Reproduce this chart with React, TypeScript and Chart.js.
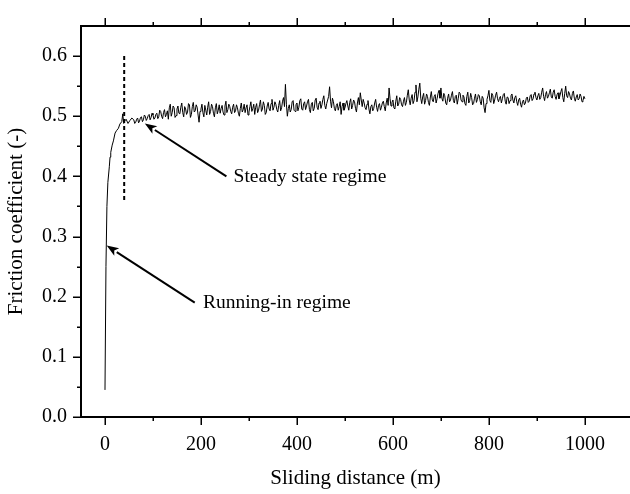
import { useEffect, useRef } from 'react';
import { Chart, registerables } from 'chart.js';

Chart.register(...registerables);

// Running-in part of the curve (distance in m, friction coefficient)
const runInDistance = [0, 2, 4, 6, 9, 10.5, 12, 15, 17.5, 21, 24, 28, 31, 35, 37, 39, 41, 44, 48, 52, 56];
const runInFriction = [0.045, 0.25, 0.35, 0.39, 0.416, 0.432, 0.44, 0.452, 0.459, 0.472, 0.476, 0.48, 0.487, 0.491, 0.504, 0.488, 0.492, 0.495, 0.488, 0.493, 0.497];

// Steady-state part, read every 4 m from 60 m to 1000 m
const steadyStart = 60;
const steadyStep = 4;
const steadyFriction = [
  0.494, 0.490, 0.497, 0.492, 0.499, 0.494, 0.500, 0.496, 0.503, 0.498,
  0.502, 0.497, 0.505, 0.499, 0.508, 0.496, 0.511, 0.503, 0.495, 0.520,
  0.506, 0.514, 0.501, 0.517, 0.504, 0.522, 0.499, 0.512, 0.507, 0.519,
  0.503, 0.523, 0.509, 0.515, 0.490, 0.512, 0.506, 0.518, 0.502, 0.524,
  0.508, 0.516, 0.499, 0.521, 0.510, 0.505, 0.518, 0.502, 0.525, 0.511,
  0.516, 0.504, 0.520, 0.509, 0.514, 0.500, 0.522, 0.511, 0.506, 0.519,
  0.507, 0.524, 0.513, 0.503, 0.521, 0.510, 0.527, 0.512, 0.518, 0.506,
  0.523, 0.509, 0.528, 0.515, 0.520, 0.507, 0.526, 0.514, 0.531, 0.553,
  0.500, 0.519, 0.511, 0.526, 0.508, 0.522, 0.515, 0.529, 0.510, 0.524,
  0.517, 0.528, 0.506, 0.523, 0.513, 0.530, 0.511, 0.525, 0.519, 0.534,
  0.512, 0.527, 0.549, 0.514, 0.524, 0.509, 0.521, 0.516, 0.503, 0.522,
  0.514, 0.526, 0.510, 0.529, 0.518, 0.524, 0.507, 0.531, 0.539, 0.516,
  0.522, 0.511, 0.526, 0.504, 0.519, 0.513, 0.528, 0.508, 0.521, 0.515,
  0.525, 0.509, 0.530, 0.547, 0.517, 0.527, 0.512, 0.534, 0.520, 0.528,
  0.516, 0.531, 0.523, 0.544, 0.519, 0.536, 0.526, 0.552, 0.532, 0.555,
  0.521, 0.538, 0.526, 0.533, 0.518, 0.541, 0.524, 0.536, 0.529, 0.543,
  0.547, 0.525, 0.534, 0.519, 0.537, 0.527, 0.541, 0.522, 0.535, 0.529,
  0.538, 0.524, 0.532, 0.518, 0.540, 0.526, 0.531, 0.521, 0.537, 0.528,
  0.534, 0.519, 0.530, 0.506, 0.528, 0.543, 0.523, 0.535, 0.527, 0.540,
  0.524, 0.533, 0.529, 0.538, 0.520, 0.531, 0.526, 0.537, 0.522, 0.534,
  0.518, 0.530, 0.515, 0.527, 0.522, 0.532, 0.525, 0.536, 0.529, 0.540,
  0.527, 0.538, 0.531, 0.547, 0.526, 0.541, 0.533, 0.545, 0.530, 0.544,
  0.528, 0.539, 0.534, 0.546, 0.524, 0.550, 0.531, 0.537, 0.527, 0.542,
  0.525, 0.536, 0.529, 0.533, 0.526,
  0.529,
];
// Steady-state readings in between (62 m, 66 m, ... 998 m)
const steadyFrictionMid = [
  0.488, 0.495, 0.489, 0.498, 0.491, 0.502, 0.493, 0.501, 0.494, 0.505,
  0.495, 0.503, 0.496, 0.510, 0.500, 0.506, 0.499, 0.509, 0.514, 0.500,
  0.517, 0.498, 0.512, 0.505, 0.515, 0.506, 0.516, 0.503, 0.521, 0.498,
  0.516, 0.507, 0.519, 0.502, 0.508, 0.520, 0.499, 0.510, 0.515, 0.503,
  0.520, 0.505, 0.514, 0.504, 0.519, 0.513, 0.507, 0.517, 0.506, 0.520,
  0.508, 0.515, 0.506, 0.519, 0.505, 0.513, 0.507, 0.520, 0.514, 0.502,
  0.516, 0.508, 0.520, 0.515, 0.506, 0.519, 0.508, 0.524, 0.503, 0.517,
  0.512, 0.521, 0.510, 0.524, 0.511, 0.518, 0.509, 0.525, 0.516, 0.520,
  0.513, 0.507, 0.524, 0.510, 0.519, 0.509, 0.526, 0.512, 0.521, 0.511,
  0.524, 0.511, 0.520, 0.509, 0.527, 0.515, 0.522, 0.513, 0.528, 0.518,
  0.521, 0.533, 0.525, 0.530, 0.513, 0.518, 0.510, 0.524, 0.516, 0.510,
  0.521, 0.517, 0.523, 0.512, 0.527, 0.513, 0.522, 0.519, 0.527, 0.528,
  0.514, 0.520, 0.512, 0.516, 0.509, 0.522, 0.515, 0.518, 0.510, 0.522,
  0.516, 0.522, 0.518, 0.529, 0.523, 0.514, 0.525, 0.517, 0.531, 0.519,
  0.525, 0.518, 0.535, 0.527, 0.530, 0.521, 0.540, 0.524, 0.545, 0.530,
  0.532, 0.520, 0.537, 0.523, 0.532, 0.527, 0.533, 0.522, 0.538, 0.530,
  0.530, 0.538, 0.522, 0.530, 0.524, 0.535, 0.526, 0.533, 0.520, 0.540,
  0.527, 0.535, 0.521, 0.533, 0.522, 0.538, 0.519, 0.530, 0.523, 0.536,
  0.524, 0.533, 0.514, 0.521, 0.534, 0.526, 0.538, 0.521, 0.535, 0.529,
  0.530, 0.522, 0.536, 0.525, 0.532, 0.521, 0.534, 0.527, 0.531, 0.524,
  0.527, 0.520, 0.524, 0.519, 0.530, 0.523, 0.534, 0.526, 0.537, 0.531,
  0.534, 0.528, 0.540, 0.533, 0.536, 0.530, 0.539, 0.532, 0.540, 0.533,
  0.536, 0.529, 0.541, 0.531, 0.538, 0.534, 0.541, 0.530, 0.538, 0.530,
  0.532, 0.527, 0.537, 0.524, 0.533,
];

// Regime boundary (dashed vertical line)
const boundaryDistance = [40, 40];
const boundaryFriction = [0.6, 0.357];

// Tick values
const xMajorTicks = [0, 200, 400, 600, 800, 1000];
const xMinorTicks = [100, 300, 500, 700, 900];
const yMajorTicks = [0, 0.1, 0.2, 0.3, 0.4, 0.5, 0.6];
const yMinorTicks = [0.05, 0.15, 0.25, 0.35, 0.45, 0.55];

// Annotations (data coordinates)
const annotationLabels = ['Steady state regime', 'Running-in regime'];
const annotationTextX = [268, 204];
const annotationTextY = [0.4, 0.19];
const arrowFromX = [253, 187];
const arrowFromY = [0.4, 0.19];
const arrowToX = [83, 3.5];
const arrowToY = [0.488, 0.285];

const FONT = '"Liberation Serif", "Times New Roman", serif';

const axesPlugin = {
  id: 'axesPlugin',
  afterDraw(chart: any) {
    const { ctx, chartArea, scales } = chart;
    const xs = scales.x;
    const ys = scales.y;
    const { left, right, top, bottom } = chartArea;
    ctx.save();
    ctx.strokeStyle = '#000';
    ctx.fillStyle = '#000';
    ctx.lineCap = 'butt';
    ctx.lineWidth = 2;
    ctx.beginPath();
    ctx.moveTo(left, top);
    ctx.lineTo(left, bottom);
    ctx.moveTo(left - 1, bottom);
    ctx.lineTo(right, bottom);
    ctx.moveTo(left - 1, top);
    ctx.lineTo(right, top);
    ctx.stroke();
    ctx.lineWidth = 1.5;
    ctx.beginPath();
    const tickX = (v: number, len: number) => {
      const px = Math.round(xs.getPixelForValue(v)) + 0.25;
      ctx.moveTo(px, bottom);
      ctx.lineTo(px, bottom + len);
      ctx.moveTo(px, top);
      ctx.lineTo(px, top - len);
    };
    xMajorTicks.forEach((v) => tickX(v, 8));
    xMinorTicks.forEach((v) => tickX(v, 4));
    const tickY = (v: number, len: number) => {
      const py = Math.round(ys.getPixelForValue(v)) + 0.25;
      ctx.moveTo(left, py);
      ctx.lineTo(left - len, py);
    };
    yMajorTicks.forEach((v) => tickY(v, 8));
    yMinorTicks.forEach((v) => tickY(v, 4));
    ctx.stroke();

    for (let i = 0; i < arrowFromX.length; i++) {
      const x1 = xs.getPixelForValue(arrowFromX[i]);
      const y1 = ys.getPixelForValue(arrowFromY[i]);
      const x2 = xs.getPixelForValue(arrowToX[i]);
      const y2 = ys.getPixelForValue(arrowToY[i]);
      const ang = Math.atan2(y2 - y1, x2 - x1);
      const headLen = 12;
      const headW = 4.5;
      const bx = x2 - headLen * Math.cos(ang);
      const by = y2 - headLen * Math.sin(ang);
      ctx.lineWidth = 2;
      ctx.beginPath();
      ctx.moveTo(x1, y1);
      ctx.lineTo(bx, by);
      ctx.stroke();
      ctx.beginPath();
      ctx.moveTo(x2, y2);
      ctx.lineTo(bx + headW * Math.sin(ang), by - headW * Math.cos(ang));
      ctx.lineTo(x2 - (headLen - 3) * Math.cos(ang), y2 - (headLen - 3) * Math.sin(ang));
      ctx.lineTo(bx - headW * Math.sin(ang), by + headW * Math.cos(ang));
      ctx.closePath();
      ctx.fill();
    }

    ctx.font = `19.5px ${FONT}`;
    ctx.textAlign = 'left';
    ctx.textBaseline = 'middle';
    annotationLabels.forEach((t, i) => {
      ctx.fillText(t, xs.getPixelForValue(annotationTextX[i]), ys.getPixelForValue(annotationTextY[i]));
    });
    ctx.restore();
  },
};

export default function App() {
  const ref = useRef<HTMLCanvasElement | null>(null);
  useEffect(() => {
    if (!ref.current) return;
    const steadyPoints: { x: number; y: number }[] = [];
    steadyFriction.forEach((y, i) => {
      steadyPoints.push({ x: steadyStart + i * steadyStep, y });
      if (i < steadyFrictionMid.length) {
        steadyPoints.push({ x: steadyStart + i * steadyStep + steadyStep / 2, y: steadyFrictionMid[i] });
      }
    });
    const curve = [
      ...runInDistance.map((x, i) => ({ x, y: runInFriction[i] })),
      ...steadyPoints,
    ];
    const boundary = boundaryDistance.map((x, i) => ({ x, y: boundaryFriction[i] }));
    const chart = new Chart(ref.current, {
      type: 'line',
      data: {
        datasets: [
          {
            data: curve,
            borderColor: '#000',
            borderWidth: 1,
            pointRadius: 0,
            tension: 0,
            fill: false,
          },
          {
            data: boundary,
            borderColor: '#000',
            borderWidth: 2,
            borderDash: [4, 3],
            pointRadius: 0,
            fill: false,
          },
        ],
      },
      options: {
        animation: false,
        responsive: false,
        events: [],
        layout: { padding: { top: 11, left: 0, right: 0, bottom: 0 } },
        plugins: { legend: { display: false }, tooltip: { enabled: false } },
        scales: {
          x: {
            type: 'linear',
            min: -50,
            max: 1094,
            afterBuildTicks: (s: any) => {
              s.ticks = xMajorTicks.map((v) => ({ value: v }));
            },
            afterFit: (s: any) => {
              s.height = 77;
            },
            grid: { display: false, drawTicks: false },
            border: { display: false },
            ticks: {
              padding: 16,
              color: '#000',
              font: { family: FONT, size: 20 },
              maxRotation: 0,
              autoSkip: false,
              callback: (v: any) => String(v),
            },
            title: {
              display: true,
              text: 'Sliding distance (m)',
              color: '#000',
              font: { family: FONT, size: 21 },
              padding: { top: 0, bottom: 3 },
            },
          },
          y: {
            type: 'linear',
            min: 0,
            max: 0.65,
            afterBuildTicks: (s: any) => {
              s.ticks = yMajorTicks.map((v) => ({ value: v }));
            },
            afterFit: (s: any) => {
              s.width = 81;
            },
            grid: { display: false, drawTicks: false },
            border: { display: false },
            ticks: {
              padding: 14,
              color: '#000',
              font: { family: FONT, size: 20 },
              autoSkip: false,
              callback: (v: any) => Number(v).toFixed(1),
            },
            title: {
              display: true,
              text: 'Friction coefficient (-)',
              color: '#000',
              font: { family: FONT, size: 21 },
              padding: { top: 4, bottom: 0 },
            },
          },
        },
      },
      plugins: [axesPlugin],
    });
    return () => chart.destroy();
  }, []);
  return (
    <div style={{ position: 'fixed', left: 0, top: 0, width: 630, height: 494, background: '#fff', overflow: 'hidden' }}>
      <canvas ref={ref} width={630} height={494} style={{ display: 'block', width: 630, height: 494 }} />
    </div>
  );
}
